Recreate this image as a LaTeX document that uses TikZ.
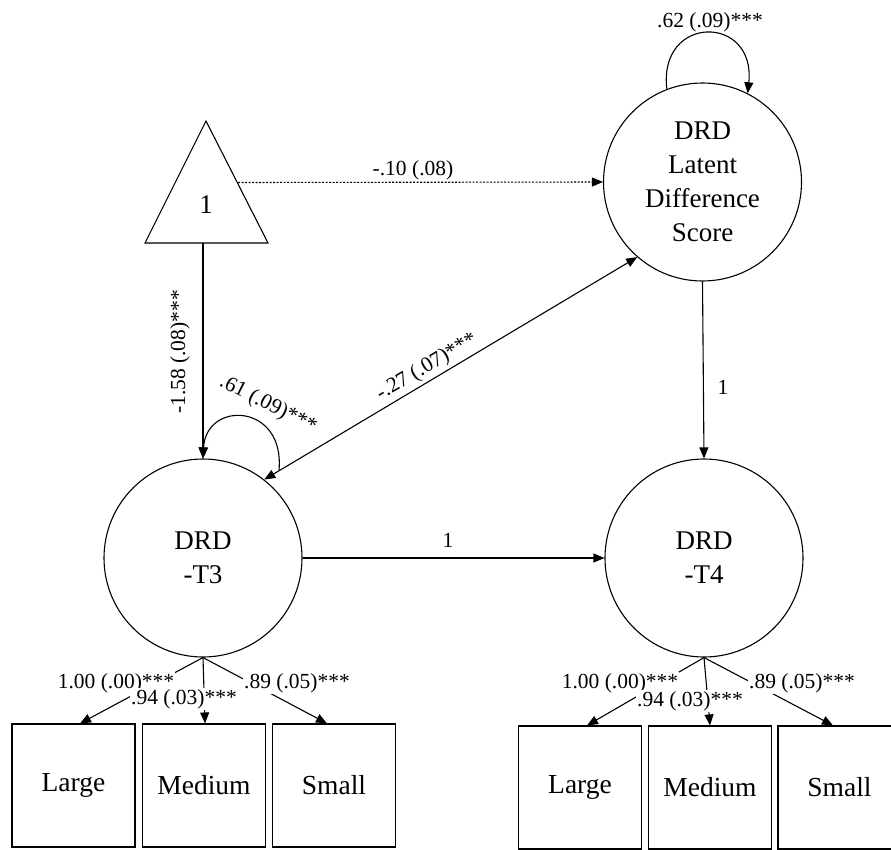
\documentclass[tikz,border=0pt]{standalone}
\usepackage{fontspec}
\setmainfont{Liberation Serif}
\usetikzlibrary{arrows.meta,calc}
\begin{document}
\begin{tikzpicture}[x=1pt,y=-1pt,
  lv/.style={circle,draw,line width=1.1pt,minimum size=198pt,inner sep=0pt,align=center,font=\fontsize{27}{34}\selectfont},
  ob/.style={rectangle,draw,line width=1.1pt,minimum width=123pt,minimum height=123pt,inner sep=0pt,font=\fontsize{27.5}{33}\selectfont},
  conn/.style={line width=1.1pt,-{Triangle[length=11pt,width=9pt]}},
  lab/.style={font=\fontsize{21.5}{26}\selectfont,inner sep=1pt},
  wlab/.style={lab,fill=white}
]
\useasboundingbox (0,0) rectangle (891,849);
\clip (0,0) rectangle (891,849);

% latent variables
\node[lv] (lat) at (702.5,182) {DRD\\Latent\\Difference\\Score};
\node[lv] (t3) at (203,558) {DRD\\-T3};
\node[lv] (t4) at (704,558) {DRD\\-T4};

% constant triangle
\coordinate (apex) at (206,121);
\coordinate (bl) at (145,243);
\coordinate (br) at (268,243);
\draw[line width=1.1pt] (apex) -- (br) -- (bl) -- cycle;
\node[font=\fontsize{27}{32}\selectfont] (one) at (206,205) {1};
\coordinate (trR) at (238,182.5);
\coordinate (trB) at (203,243);

% observed boxes
\node[ob] (bL1) at (73.5,785.5) {Large};
\node[ob] (bL2) at (204,785.5) {Medium};
\node[ob] (bL3) at (334,785.5) {Small};
\node[ob] (bR1) at (580,787.5) {Large};
\node[ob] (bR2) at (710,787.5) {Medium};
\node[ob] (bR3) at (839.5,787.5) {Small};

% structural paths
\draw[conn,dash pattern=on 2pt off 1.5pt] (trR) -- (lat.west);
\draw[conn] (trB) -- (t3.north);
\draw[line width=1.1pt,{Triangle[length=11pt,width=9pt]}-{Triangle[length=11pt,width=9pt]}] (t3.52) -- (lat.229);
\draw[conn] (t3.east) -- (t4.west);
\draw[conn] (lat.south) -- (t4.north);

% self loops
\draw[conn] (lat.111) .. controls (658,14) and (756,14) .. (lat.63);
\coordinate (loopR) at (279,470);
\draw[conn] (loopR) .. controls (285,403) and (206,400) .. (t3.north);

% loadings
\draw[conn] (t3.south) -- ([xshift=6.5pt]bL1.north);
\draw[conn] (t3.south) -- ([xshift=1pt]bL2.north);
\draw[conn] (t3.south) -- ([xshift=-7pt]bL3.north);
\draw[conn] (t4.south) -- ([xshift=7pt]bR1.north);
\draw[conn] (t4.south) -- (bR2.north);
\draw[conn] (t4.south) -- ([xshift=-6.5pt]bR3.north);

% labels
\node[lab] (l62) at (710,22) {.62 (.09)***};
\node[lab] (l10) at (413,170) {-.10 (.08)};
\node[lab,rotate=90] (l158) at (180,352) {-1.58 (.08)***};
\node[lab,rotate=-27] (l61) at (268,405) {.61 (.09)***};
\node[lab,rotate=30.4] (l27) at (427,367) {-.27 (.07)***};
\node[lab] (l1a) at (448,540) {1};
\node[lab] (l1b) at (723,387) {1};

\node[wlab] (a1) at (116,683) {1.00 (.00)***};
\node[wlab] (a3) at (297,683) {.89 (.05)***};
\node[wlab] (a2) at (184,699) {.94 (.03)***};
\node[wlab] (b1) at (620,683) {1.00 (.00)***};
\node[wlab] (b3) at (802,683) {.89 (.05)***};
\node[wlab] (b2) at (690,701) {.94 (.03)***};
\end{tikzpicture}
\end{document}
